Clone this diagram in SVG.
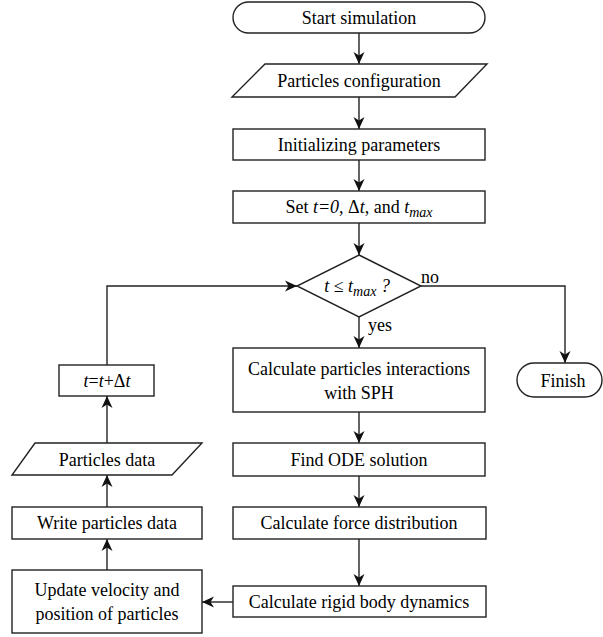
<svg xmlns="http://www.w3.org/2000/svg" width="603" height="637" viewBox="0 0 603 637" font-family="'Liberation Serif', 'DejaVu Serif', serif" font-size="18">
<style>
.s{fill:#fff;stroke:#222;stroke-width:1.4}
.c{fill:none;stroke:#222;stroke-width:1.4}
.m{text-anchor:middle}
.i{font-style:italic}
</style>
<defs>
<marker id="ah" viewBox="0 0 12 12" refX="12" refY="6" markerWidth="12" markerHeight="12" markerUnits="userSpaceOnUse" orient="auto">
<path d="M0,0.5 L12,6 L0,11.5 L3.5,6 z" fill="#111"/>
</marker>
</defs>
<rect width="603" height="637" fill="#fff"/>
<g id="connectors">
<line class="c" x1="359" y1="33" x2="359" y2="64" marker-end="url(#ah)"/>
<line class="c" x1="359" y1="97" x2="359" y2="129" marker-end="url(#ah)"/>
<line class="c" x1="359" y1="160" x2="359" y2="191" marker-end="url(#ah)"/>
<line class="c" x1="359" y1="223" x2="359" y2="255" marker-end="url(#ah)"/>
<line class="c" x1="359" y1="317" x2="359" y2="348" marker-end="url(#ah)"/>
<line class="c" x1="359" y1="412" x2="359" y2="443" marker-end="url(#ah)"/>
<line class="c" x1="359" y1="476" x2="359" y2="507" marker-end="url(#ah)"/>
<line class="c" x1="359" y1="539" x2="359" y2="586" marker-end="url(#ah)"/>
<polyline class="c" points="421,286 565,286 565,363" marker-end="url(#ah)"/>
<line class="c" x1="233" y1="602" x2="202" y2="602" marker-end="url(#ah)"/>
<line class="c" x1="107" y1="570" x2="107" y2="539" marker-end="url(#ah)"/>
<line class="c" x1="107" y1="507" x2="107" y2="475" marker-end="url(#ah)"/>
<line class="c" x1="107" y1="443" x2="107" y2="396" marker-end="url(#ah)"/>
<polyline class="c" points="107,365 107,286 297,286" marker-end="url(#ah)"/>
<text x="421" y="283">no</text>
<text x="368" y="331">yes</text>
</g>
<g id="start">
<rect class="s" x="233" y="2" width="252" height="31" rx="15.5"/>
<text class="m" x="359" y="24">Start simulation</text>
</g>
<g id="config">
<polygon class="s" points="265,64 487,64 455,97 232,97"/>
<text class="m" x="359" y="87">Particles configuration</text>
</g>
<g id="init">
<rect class="s" x="233" y="129" width="252" height="31"/>
<text class="m" x="359" y="151">Initializing parameters</text>
</g>
<g id="set">
<rect class="s" x="233" y="191" width="252" height="32"/>
<text class="m" x="359" y="213">Set <tspan class="i">t=0</tspan>, Δ<tspan class="i">t</tspan>, and <tspan class="i">t</tspan><tspan class="i" font-size="14" dy="4">max</tspan></text>
</g>
<g id="decision">
<polygon class="s" points="359,255 421,286 359,317 297,286"/>
<text class="m" x="357" y="292"><tspan class="i">t</tspan> ≤ <tspan class="i">t</tspan><tspan class="i" font-size="14" dy="4">max</tspan><tspan class="i" dy="-4"> ?</tspan></text>
</g>
<g id="finish">
<rect class="s" x="517" y="363" width="85" height="34" rx="17"/>
<text class="m" x="563" y="387">Finish</text>
</g>
<g id="sph">
<rect class="s" x="233" y="348" width="252" height="64"/>
<text class="m" x="359" y="375">Calculate particles interactions</text>
<text class="m" x="359" y="399">with SPH</text>
</g>
<g id="ode">
<rect class="s" x="233" y="443" width="252" height="33"/>
<text class="m" x="359" y="466">Find ODE solution</text>
</g>
<g id="force">
<rect class="s" x="233" y="507" width="253" height="32"/>
<text class="m" x="359" y="529">Calculate force distribution</text>
</g>
<g id="rigid">
<rect class="s" x="233" y="586" width="253" height="31"/>
<text class="m" x="359" y="608">Calculate rigid body dynamics</text>
</g>
<g id="update">
<rect class="s" x="12" y="570" width="190" height="63"/>
<text class="m" x="107" y="596">Update velocity and</text>
<text class="m" x="107" y="620">position of particles</text>
</g>
<g id="write">
<rect class="s" x="12" y="507" width="190" height="32"/>
<text class="m" x="107" y="529">Write particles data</text>
</g>
<g id="pdata">
<polygon class="s" points="35,443 202,443 172,475 12,475"/>
<text class="m" x="107" y="466">Particles data</text>
</g>
<g id="tinc">
<rect class="s" x="59" y="365" width="95" height="31"/>
<text class="m" x="107" y="387"><tspan class="i">t</tspan>=<tspan class="i">t</tspan>+Δ<tspan class="i">t</tspan></text>
</g>
</svg>
